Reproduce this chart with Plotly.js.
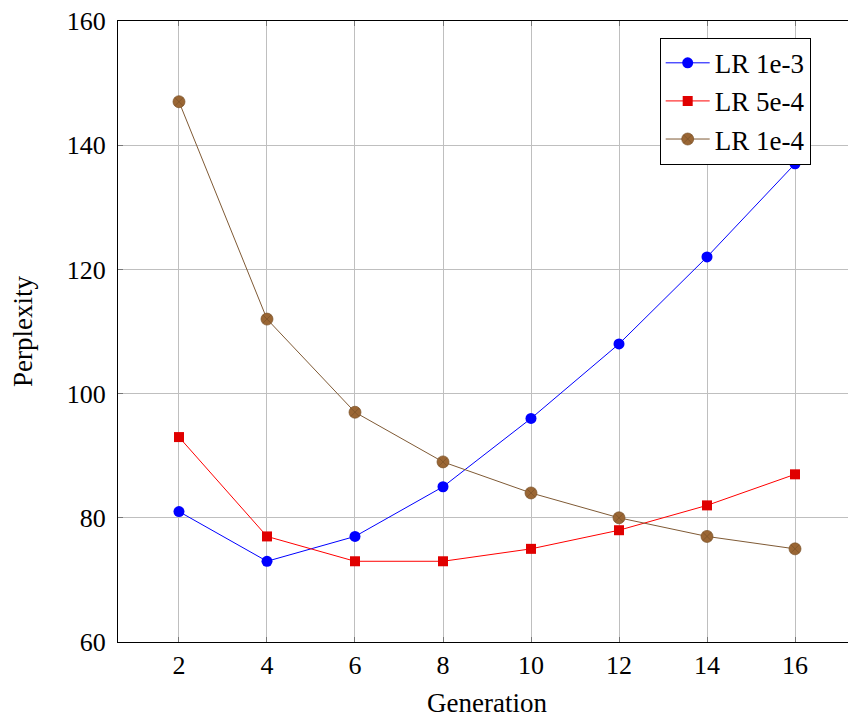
<!DOCTYPE html>
<html>
<head>
<meta charset="utf-8">
<script src="https://cdn.plot.ly/plotly-3.0.1.min.js"></script>
<style>
html,body{margin:0;padding:0;overflow:hidden;background:#fff;}
#chart{width:880px;height:719px;}
</style>
</head>
<body>
<div id="chart"></div>
<script>
const generations = [2, 4, 6, 8, 10, 12, 14, 16];
const lr1e3 = [81, 73, 77, 85, 96, 108, 122, 137];
const lr5e4 = [93, 77, 73, 73, 75, 78, 82, 87];
const lr1e4 = [147, 112, 97, 89, 84, 80, 77, 75];
const seriesNames = ["LR 1e-3", "LR 5e-4", "LR 1e-4"];
const xTicks = [2, 4, 6, 8, 10, 12, 14, 16];
const yTicks = [60, 80, 100, 120, 140, 160];

const font = "Liberation Serif, Times New Roman, serif";

const traces = [
  {x: generations, y: lr1e3, name: seriesNames[0], mode: "lines+markers",
   line: {color: "#0000ff", width: 1},
   marker: {symbol: "circle", size: 11, color: "#0000ff", line: {color: "#0000ff", width: 0}}},
  {x: generations, y: lr5e4, name: seriesNames[1], mode: "lines+markers",
   line: {color: "#ff0000", width: 1},
   marker: {symbol: "square", size: 10, color: "#e00000", line: {color: "#cc0000", width: 0}}},
  {x: generations, y: lr1e4, name: seriesNames[2], mode: "lines+markers",
   line: {color: "#7f5a35", width: 1},
   marker: {symbol: "circle-x", size: 12, color: "#9a6634", line: {color: "#7a5228", width: 0.7}}}
];

const layout = {
  width: 880, height: 719,
  margin: {l: 118, t: 21, b: 77, r: 24},
  paper_bgcolor: "#ffffff", plot_bgcolor: "#ffffff",
  font: {family: font, size: 26, color: "#000"},
  showlegend: true,
  legend: {x: 0.734, y: 0.973, xanchor: "left", yanchor: "top",
    bordercolor: "#000", borderwidth: 1, bgcolor: "#fff",
    font: {family: font, size: 27, color: "#000"}, tracegroupgap: 0, itemwidth: 44},
  xaxis: {range: [0.614, 17.386], tickvals: xTicks, ticktext: xTicks.map(String),
    showgrid: true, gridcolor: "#bfbfbf", gridwidth: 1,
    showline: true, linecolor: "#000", linewidth: 1, mirror: "ticks",
    ticks: "inside", ticklen: 5, tickcolor: "#777", zeroline: false,
    tickfont: {family: font, size: 26},
    title: {text: "Generation", font: {family: font, size: 27}, standoff: 13}},
  yaxis: {range: [60, 160], tickvals: yTicks, ticktext: yTicks.map(String),
    showgrid: true, gridcolor: "#bfbfbf", gridwidth: 1,
    showline: true, linecolor: "#000", linewidth: 1, mirror: "ticks",
    ticks: "inside", ticklen: 5, tickcolor: "#777", zeroline: false,
    ticklabelstandoff: 6,
    tickfont: {family: font, size: 26},
    title: {text: "Perplexity", font: {family: font, size: 27}, standoff: 26}}
};

Plotly.newPlot("chart", traces, layout, {displayModeBar: false, staticPlot: true});
</script>
</body>
</html>
